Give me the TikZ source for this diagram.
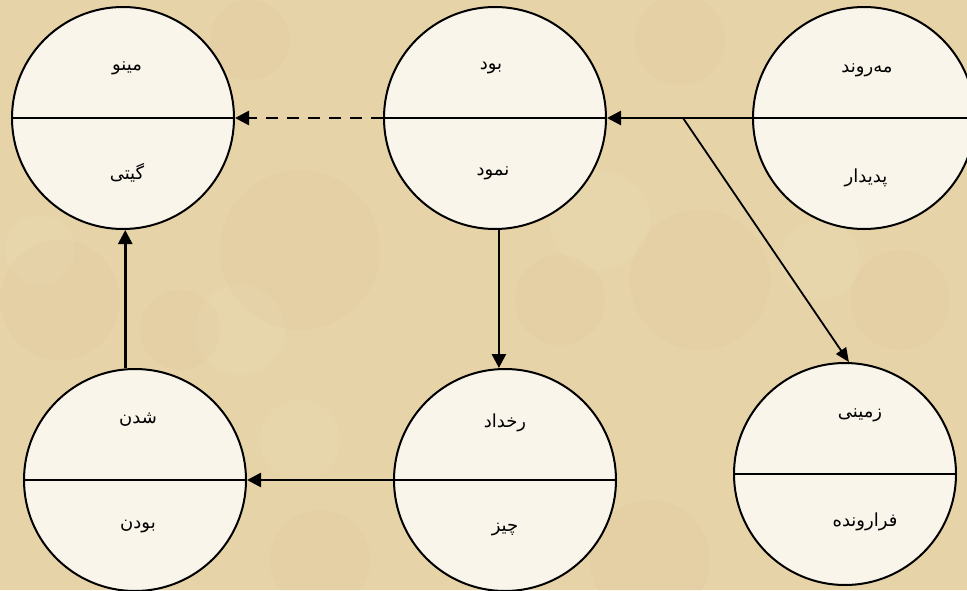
\documentclass[tikz,border=0pt]{standalone}
\usepackage{fontspec}
\usetikzlibrary{arrows.meta}
\TeXXeTstate=1
\newfontfamily\arabicfont[Script=Arabic]{DejaVu Sans}
\definecolor{parch}{RGB}{230,211,168}
\definecolor{parchdark}{RGB}{212,188,138}
\definecolor{parchlight}{RGB}{240,226,192}
\definecolor{cream}{RGB}{249,245,234}
\begin{document}
\begin{tikzpicture}[x=1pt,y=-1pt,
  disc/.style={circle, draw=black, line width=2pt, fill=cream, minimum size=222pt, inner sep=0pt},
  lbl/.style={font=\arabicfont\fontsize{18}{22}\selectfont},
  divider/.style={line width=2pt},
  conn/.style={line width=2.6pt, -{Triangle[length=14pt,width=14pt]}},
  thinconn/.style={line width=1.8pt, -{Triangle[length=14pt,width=12pt]}},
]
\useasboundingbox (0,0) rectangle (967,590);
\clip (0,0) rectangle (967,590);
\fill[parch] (0,0) rectangle (967,590);
% faint texture
\foreach \x/\y/\r in {60/300/60, 300/250/80, 700/280/70, 320/560/50, 650/560/60, 900/300/50, 250/40/40, 680/40/45, 180/330/40, 560/300/45}
  \fill[parchdark, opacity=0.1] (\x,\y) circle (\r);
\foreach \x/\y/\r in {240/330/45, 600/220/50, 820/260/40, 40/250/35, 300/440/40}
  \fill[parchlight, opacity=0.15] (\x,\y) circle (\r);

% circles
\node[disc] (minu) at (123,118) {};
\node[disc] (bud) at (495,118) {};
\node[disc] (marwand) at (864,118) {};
\node[disc] (shodan) at (135,480) {};
\node[disc] (rokh) at (505,480) {};
\node[disc] (zamini) at (845,474) {};

\foreach \n in {minu,bud,marwand,shodan,rokh,zamini}
  \draw[divider] (\n.west) -- (\n.east);

% labels
\node[lbl] (minuT) at (127,68) {\beginR مینو\endR};
\node[lbl] (minuB) at (127,173) {\beginR گیتی\endR};
\node[lbl] (budT) at (491,68) {\beginR بود\endR};
\node[lbl] (budB) at (493,173) {\beginR نمود\endR};
\node[lbl] (marT) at (867,70) {\beginR مه‌روند\endR};
\node[lbl] (marB) at (866,178) {\beginR پدیدار\endR};
\node[lbl] (shoT) at (138,420) {\beginR شدن\endR};
\node[lbl] (shoB) at (138,527) {\beginR بودن\endR};
\node[lbl] (rokhT) at (505,423) {\beginR رخداد\endR};
\node[lbl] (rokhB) at (505,530) {\beginR چیز\endR};
\node[lbl] (zamT) at (860,415) {\beginR زمینی\endR};
\node[lbl] (zamB) at (865,522) {\beginR فرارونده\endR};

% connectors
\draw[conn, dash pattern=on 12pt off 9pt] (bud.west) -- (minu.east);
\draw[conn] (marwand.west) -- (bud.east);
\coordinate (branch) at (683,118);
\draw[thinconn] (branch) -- (zamini.88);
\draw[conn] (bud.-88) -- (bud.-88 |- rokh.north);
\draw[conn] (rokh.west) -- (shodan.east);
\draw[conn] (shodan.95) -- (shodan.95 |- minu.south);
\end{tikzpicture}
\end{document}
